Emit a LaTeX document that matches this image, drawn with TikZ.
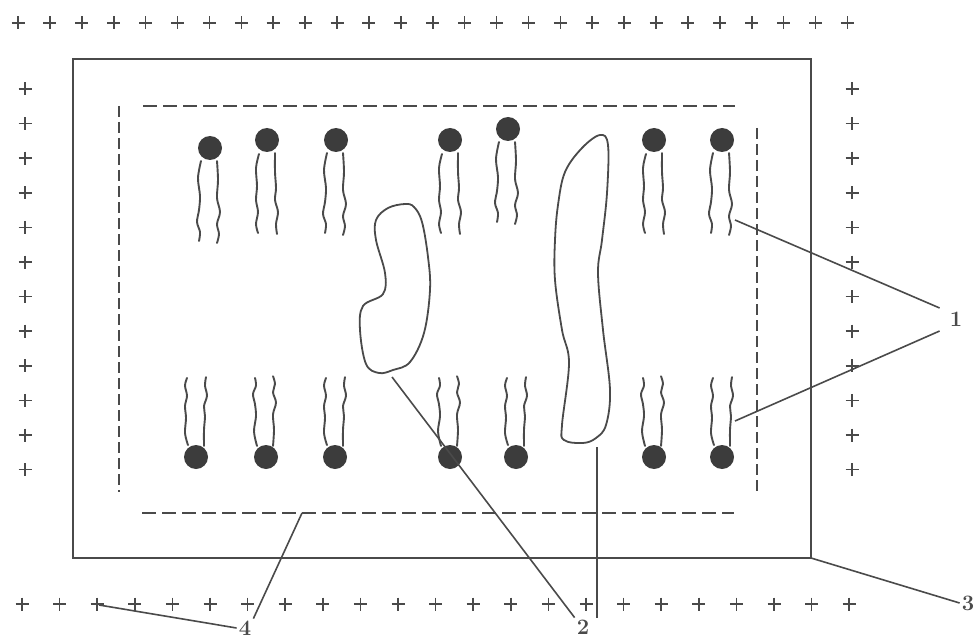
\documentclass[tikz,border=0pt]{standalone}
\usepackage{fontspec}
\usetikzlibrary{calc}
\definecolor{inkgray}{HTML}{4A4A4A}
\definecolor{headgray}{HTML}{3C3C3C}
\begin{document}
\begin{tikzpicture}[x=1pt,y=-1pt,
  ink/.style={draw=inkgray, line width=1.9pt},
  leader/.style={draw=inkgray, line width=1.6pt},
  chargeline/.style={draw=inkgray, line width=1.6pt},
  dashh/.style={draw=inkgray, line width=1.8pt, dash pattern=on 14pt off 6pt},
  dashv/.style={draw=inkgray, line width=1.8pt, dash pattern=on 11pt off 5pt},
  tail/.style={draw=inkgray, line width=1.9pt, line join=round, line cap=round},
  protein/.style={draw=inkgray, line width=1.8pt},
  numlabel/.style={text=inkgray, inner sep=2pt, font=\fontsize{22}{24}\selectfont\bfseries},
  pics/plussign/.style={code={\draw[chargeline] (-6.5,0) -- (6.5,0) (0,-6.5) -- (0,6.5);}},
  pics/tailsA/.style={code={
    \draw[tail] plot[smooth, tension=0.55] coordinates {(-9,13) (-12,30) (-10,48) (-11,62) (-13,74) (-10,84) (-11,93)};
    \draw[tail] plot[smooth, tension=0.55] coordinates {(7,13) (8,32) (7,50) (10,64) (7,76) (9,86) (7,95)};
  }},
  pics/tailsB/.style={code={
    \draw[tail] plot[smooth, tension=0.55] coordinates {(-8,14) (-11,28) (-10,46) (-11,60) (-9,72) (-11,84) (-9,93)};
    \draw[tail] plot[smooth, tension=0.55] coordinates {(8,13) (8,32) (9,48) (8,60) (11,72) (9,84) (10,94)};
  }}
]
\useasboundingbox (0,0) rectangle (979,639);

% fixed charges outside the membrane
\foreach \i in {0,...,26} \pic at ({18+\i*31.9},23) {plussign};
\foreach \i in {0,...,22} \pic at ({22+\i*37.6},604) {plussign};
\foreach \i in {0,...,11} {
  \pic at (25,{89+\i*34.6}) {plussign};
  \pic at (852,{89+\i*34.6}) {plussign};
}

% outer frame and inner dashed boundary
\draw[ink] (73,59) rectangle (811,558);
\coordinate (framecorner) at (811,558);
\draw[dashh] (143,106) -- (735,106);
\draw[dashh] (142,513) -- (734,513);
\draw[dashv] (119,106) -- (119,492);
\draw[dashv] (757,128) -- (757,492);
\coordinate (dashpt) at (302,513);

% upper leaflet: heads with tails hanging down
\foreach \x/\y/\t in {210/148/A, 267/140/B, 336/140/A, 450/140/B, 508/129/A, 654/140/B, 722/140/A} {
  \fill[headgray] (\x,\y) circle (12);
  \pic at (\x,\y) {tails\t};
}
% lower leaflet: heads with tails pointing up
\foreach \x/\t in {196/B, 266/A, 335/B, 450/A, 516/B, 654/A, 722/B} {
  \fill[headgray] (\x,457) circle (12);
  \pic[yscale=-0.85] at (\x,457) {tails\t};
}

% membrane proteins
\draw[protein] plot[smooth cycle, tension=0.6] coordinates {
  (405,204) (414,207) (422,222) (428,257) (430,290) (424,333) (410,362)
  (393,370) (379,373) (366,364) (360,330) (363,306) (383,294) (385,273)
  (376,240) (376,220) (388,208)};
\draw[protein] plot[smooth cycle, tension=0.6] coordinates {
  (600,135) (608,145) (607,193) (602,240) (598,273) (603,330) (610,390)
  (606,425) (596,438) (583,443) (564,440) (562,425) (569,363) (562,330)
  (555,280) (555,240) (558,205) (565,172) (582,148)};

% label anchors on the drawn parts
\coordinate (tailtop) at (735,220);
\coordinate (tailbot) at (735,421);
\coordinate (protA) at (392,377);
\coordinate (protB) at (597,447);
\coordinate (plusfour) at (99,605);

% numbered labels
\node[numlabel] (l1) at (956,319) {1};
\node[numlabel] (l2) at (583,627) {2};
\node[numlabel] (l3) at (968,603) {3};
\node[numlabel] (l4) at (245,628) {4};

\draw[leader] (tailtop) -- ($(l1.west)+(-8,-11)$);
\draw[leader] (tailbot) -- ($(l1.west)+(-8,12)$);
\draw[leader] (protA) -- (l2.north west);
\draw[leader] (protB) -- (protB |- l2.north);
\draw[leader] (framecorner) -- (l3.west);
\draw[leader] (plusfour) -- (l4.west);
\draw[leader] (dashpt) -- (l4.north east);
\end{tikzpicture}
\end{document}
